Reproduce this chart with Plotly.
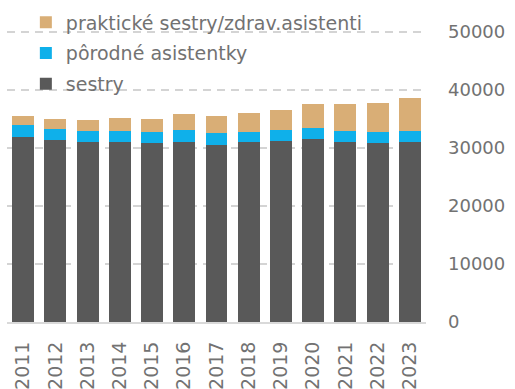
import plotly.graph_objects as go

years = ["2011", "2012", "2013", "2014", "2015", "2016", "2017",
         "2018", "2019", "2020", "2021", "2022", "2023"]
sestry = [31900, 31380, 31030, 31030, 30860, 31030, 30520,
          31030, 31210, 31550, 31030, 30860, 31030]
porodne_asistentky = [2060, 1900, 1900, 1900, 1900, 2070, 2070,
                      1730, 1890, 1900, 1900, 1900, 1900]
prakticke_sestry = [1560, 1720, 1900, 2240, 2240, 2760, 2930,
                    3270, 3450, 4140, 4660, 5000, 5690]

y_ticks = [0, 10000, 20000, 30000, 40000, 50000]

FONT = "DejaVu Sans"
TEXT = "#727272"

fig = go.Figure()
fig.add_trace(go.Bar(x=years, y=sestry, name="sestry",
                     marker=dict(color="#595959", line=dict(width=0)),
                     legendgroup="c", legendrank=3))
fig.add_trace(go.Bar(x=years, y=porodne_asistentky, name="pôrodné asistentky",
                     marker=dict(color="#0fb0ea", line=dict(width=0)),
                     legendgroup="b", legendrank=2))
fig.add_trace(go.Bar(x=years, y=prakticke_sestry,
                     name="praktické sestry/zdrav.asistenti",
                     marker=dict(color="#d9ae76", line=dict(width=0)),
                     legendgroup="a", legendrank=1))

fig.update_layout(
    width=515, height=389,
    barmode="stack", bargap=0.32,
    margin=dict(l=7, r=89, t=20, b=67, autoexpand=False),
    paper_bgcolor="white", plot_bgcolor="white",
    font=dict(family=FONT, size=19, color=TEXT),
    showlegend=True,
    legend=dict(
        x=0.045, y=1.055, xanchor="left", yanchor="top",
        traceorder="grouped", tracegroupgap=3,
        bgcolor="rgba(0,0,0,0)", borderwidth=0,
        font=dict(family=FONT, size=19, color=TEXT),
    ),
    xaxis=dict(
        type="category", tickangle=-90, automargin=False,
        showgrid=False, showline=True, linecolor="#d9d9d9", linewidth=2,
        ticks="", ticklabelstandoff=10,
        tickfont=dict(family=FONT, size=19, color=TEXT),
    ),
    yaxis=dict(
        side="right", range=[0, 52000], automargin=False,
        tickvals=y_ticks, ticktext=[str(v) for v in y_ticks],
        showgrid=True, gridcolor="#d4d4d4", griddash="8px,6px", gridwidth=1.5,
        zeroline=False, showline=False, ticks="", ticklabelstandoff=21,
        tickfont=dict(family=FONT, size=18, color=TEXT),
    ),
)

fig.write_html("out.html")
